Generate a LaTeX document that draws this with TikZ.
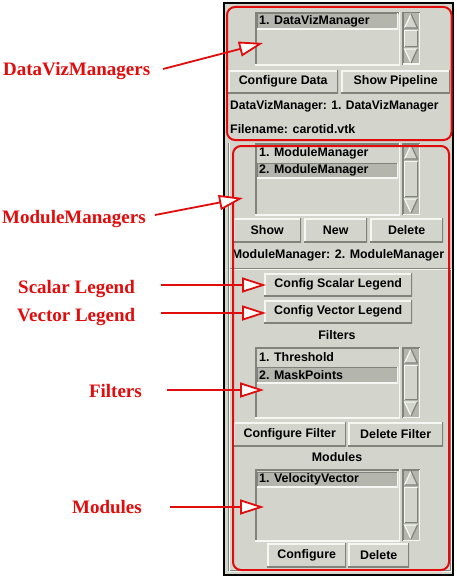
\documentclass[tikz,border=0pt]{standalone}
\usepackage{fontspec}
\setmainfont{Liberation Sans}
\newfontfamily\lblfont{Liberation Serif}
\usetikzlibrary{arrows.meta}
\definecolor{guibg}{RGB}{211,213,205}
\definecolor{guilite}{RGB}{246,247,242}
\definecolor{guidark}{RGB}{128,130,124}
\definecolor{guisel}{RGB}{180,182,174}
\definecolor{annred}{RGB}{225,12,12}
\tikzset{
  gui/.style={font=\bfseries\fontsize{12.4}{14}\selectfont, text=black, inner sep=0pt},
  raised/.style={fill=guibg, path picture={
    \draw[guilite,line width=3pt] (path picture bounding box.south west) -- (path picture bounding box.north west) -- (path picture bounding box.north east);
    \draw[guidark,line width=3pt] (path picture bounding box.south west) -- (path picture bounding box.south east) -- (path picture bounding box.north east);}},
  sunken/.style={path picture={
    \draw[guidark,line width=3pt] (path picture bounding box.south west) -- (path picture bounding box.north west) -- (path picture bounding box.north east);
    \draw[guilite,line width=3pt] (path picture bounding box.south west) -- (path picture bounding box.south east) -- (path picture bounding box.north east);}},
  thinsunken/.style={path picture={
    \draw[guidark,line width=2pt] (path picture bounding box.south west) -- (path picture bounding box.north west) -- (path picture bounding box.north east);
    \draw[guilite,line width=2pt] (path picture bounding box.south west) -- (path picture bounding box.south east) -- (path picture bounding box.north east);}},
  btn/.style={gui, raised, anchor=north west},
  listbox/.style={fill=guibg, sunken, anchor=north west, inner sep=0pt, minimum width=145pt},
  selbar/.style={fill=guisel, thinsunken, anchor=north west, inner sep=0pt, minimum width=141pt},
  item/.style={gui, anchor=west},
  guilabel/.style={gui},
  group/.style={draw=annred, line width=2pt, rounded corners=8pt},
  ann/.style={font=\lblfont\bfseries\fontsize{19}{22}\selectfont, text=annred, inner sep=0pt},
  annarrow/.style={draw=annred, line width=1.8pt, -{Triangle[length=24pt,width=15pt,fill=white]}},
}
\newcommand\sbar[2]{%
  \fill[guisel] (402,#1) rectangle (420,#2);
  \draw[guidark,line width=1.5pt] (402.75,#2) -- (402.75,#1+0.75) -- (420,#1+0.75);
  \draw[guilite,line width=1.5pt] (402.75,#2-0.75) -- (419.25,#2-0.75) -- (419.25,#1+0.75);
  \fill[guibg] (404.5,#1+16) -- (417.5,#1+16) -- (411,#1+2) -- cycle;
  \draw[guilite,line width=1.2pt] (404.5,#1+16) -- (411,#1+2);
  \draw[guidark,line width=1.2pt] (411,#1+2) -- (417.5,#1+16) -- (404.5,#1+16);
  \fill[guibg] (404,#1+18) rectangle (418,#2-18);
  \draw[guilite,line width=1.2pt] (404.6,#2-18) -- (404.6,#1+18.6) -- (417.4,#1+18.6);
  \draw[guidark,line width=1.2pt] (404.6,#2-18.6) -- (417.4,#2-18.6) -- (417.4,#1+18.6);
  \fill[guibg] (404.5,#2-16) -- (417.5,#2-16) -- (411,#2-2) -- cycle;
  \draw[guilite,line width=1.2pt] (417.5,#2-16) -- (404.5,#2-16) -- (411,#2-2);
  \draw[guidark,line width=1.2pt] (411,#2-2) -- (417.5,#2-16);
}
\begin{document}
\begin{tikzpicture}[x=1pt,y=-1pt]
\useasboundingbox (0,0) rectangle (456,578);
\fill[white] (0,0) rectangle (456,578);
% window
\fill[guibg] (223,2) rectangle (454,576);
% inner frame groove
\draw[guidark,line width=1pt] (228.5,268.5) rectangle (450.5,570.5);
\draw[guilite,line width=1pt] (229.5,269.5) rectangle (451.5,571.5);
\draw[guidark,line width=1pt] (228.5,143) -- (228.5,268.5);
\draw[guilite,line width=1pt] (229.5,143) -- (229.5,268.5);

% ---- DataVizManager section
\node[listbox, minimum height=53pt] (lbDV) at (255,12) {};
\node[selbar, minimum height=16pt] (selDV) at (257,13) {};
\node[item] (itDV1) at (259,21) {1. DataVizManager};
\sbar{12}{65}
\node[btn, minimum width=110pt, minimum height=23pt] (bCfgData) at (228,70) {Configure Data};
\node[btn, minimum width=109pt, minimum height=23pt] (bShowPipe) at (341,70) {Show Pipeline};
\node[guilabel, anchor=west] (lDVM) at (230,106) {\scalebox{0.97}[1]{DataVizManager: 1. DataVizManager}};
\node[guilabel, anchor=west] (lFile) at (230,129) {Filename: carotid.vtk};

% ---- ModuleManager section
\node[listbox, minimum height=72pt] (lbMM) at (255,143) {};
\node[selbar, minimum height=15pt] (selMM) at (257,163) {};
\node[item] (itMM1) at (259,153) {1. ModuleManager};
\node[item] (itMM2) at (259,170.5) {2. ModuleManager};
\sbar{143}{215}
\node[btn, minimum width=68pt, minimum height=24pt] (bShow) at (233,218) {Show};
\node[btn, minimum width=63pt, minimum height=24pt] (bNew) at (304,218) {New};
\node[btn, minimum width=73pt, minimum height=24pt] (bDel) at (370,218) {Delete};
\node[guilabel] (lMM) at (338,255) {ModuleManager: 2. ModuleManager};

\node[btn, minimum width=148pt, minimum height=23pt] (bScalar) at (264,273) {Config Scalar Legend};
\node[btn, minimum width=148pt, minimum height=23pt] (bVector) at (264,300) {Config Vector Legend};

% Filters
\node[guilabel] (lFilters) at (337,335) {Filters};
\node[listbox, minimum height=71pt] (lbF) at (255,347) {};
\node[selbar, minimum height=16pt] (selF) at (257,367) {};
\node[item] (itF1) at (259,357) {1. Threshold};
\node[item] (itF2) at (259,375) {2. MaskPoints};
\sbar{347}{418}
\node[btn, minimum width=113pt, minimum height=24pt] (bCfgF) at (233,422) {Configure Filter};
\node[btn, minimum width=95pt, minimum height=24pt] (bDelF) at (348,422) {Delete Filter};

% Modules
\node[guilabel] (lModules) at (337,457) {Modules};
\node[listbox, minimum height=72pt] (lbMod) at (255,469) {};
\node[selbar, minimum height=15pt] (selMod) at (257,472) {};
\node[item] (itMod1) at (259,479.5) {1. VelocityVector};
\sbar{469}{541}
\node[btn, minimum width=79pt, minimum height=24pt] (bCfgMod) at (267,543) {Configure};
\node[btn, minimum width=61pt, minimum height=24pt] (bDelMod) at (348,543) {Delete};

% window border
\draw[black,line width=2pt] (224,3) rectangle (453,575);

% red groups
\draw[group] (227,7) rectangle (451.5,140);
\draw[group] (233,146) rectangle (449,570);

% annotations
\node[ann, anchor=base west] (aDV) at (3,75) {DataVizManagers};
\node[ann, anchor=base west] (aMM) at (2,223) {ModuleManagers};
\node[ann, anchor=base west] (aSL) at (18,293) {Scalar Legend};
\node[ann, anchor=base west] (aVL) at (17,321) {Vector Legend};
\node[ann, anchor=base east] (aF) at (142,397) {Filters};
\node[ann, anchor=base east] (aMod) at (142,513) {Modules};

\coordinate (sDV) at (163,69);   \coordinate (tDV) at (263,43);
\coordinate (sMM) at (155,215);  \coordinate (tMM) at (243,198);
\coordinate (sSL) at (161,285);  \coordinate (tSL) at (266,285);
\coordinate (sVL) at (161,313);  \coordinate (tVL) at (266,313);
\coordinate (sF) at (167,390);   \coordinate (tF) at (264,390);
\coordinate (sMod) at (170,507); \coordinate (tMod) at (264,507);
\draw[annarrow] (sDV) -- (tDV);
\draw[annarrow] (sMM) -- (tMM);
\draw[annarrow] (sSL) -- (tSL);
\draw[annarrow] (sVL) -- (tVL);
\draw[annarrow] (sF) -- (tF);
\draw[annarrow] (sMod) -- (tMod);
\end{tikzpicture}
\end{document}
